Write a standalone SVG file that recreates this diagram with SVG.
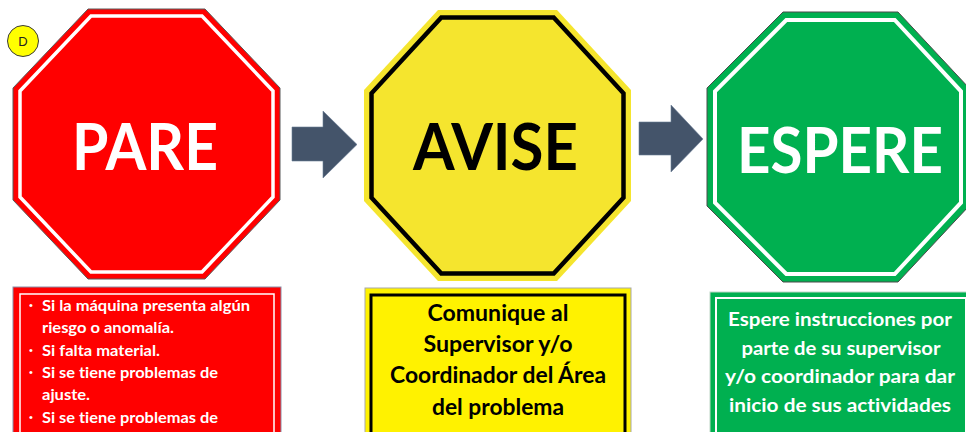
<svg xmlns="http://www.w3.org/2000/svg" width="966" height="432" viewBox="0 0 966 432">
<defs>
<style>
.title{font-family:"Lato","Open Sans","Liberation Sans",sans-serif;font-weight:700;text-anchor:middle}
.body{font-family:"Lato","Open Sans","Liberation Sans",sans-serif;font-weight:700;font-variant-ligatures:none}
.ctr{text-anchor:middle}
.white{fill:#FFFFFF}
.black{fill:#000000}
.bullet{font-family:"Liberation Sans",sans-serif;font-size:11px;font-weight:400}
.arrow{fill:#44546A;stroke:#6A7C95;stroke-width:0.6}
</style>
</defs>
<rect x="0" y="0" width="966" height="432" fill="#FFFFFF"/>

<g id="badge-d">
<circle cx="23" cy="41" r="15.5" fill="#FFFF00" stroke="#3A3A3A" stroke-width="1"/>
<text x="23" y="46" font-family="Liberation Sans, sans-serif" font-size="13" text-anchor="middle" fill="#222">D</text>
</g>

<g id="node-pare">
<polygon points="88,9 205,9 280,88 280,200 205,279 88,279 13,200 13,88" fill="#FF0000" stroke="#5A5A5A" stroke-width="1"/>
<polygon points="91,16 202,16 273,91 273,197 202,272 91,272 20,197 20,91" fill="none" stroke="#FFFFFF" stroke-width="3.5"/>
<text class="title white" x="145" y="170" font-size="65" textLength="146" lengthAdjust="spacingAndGlyphs">PARE</text>
</g>

<g id="node-avise">
<polygon points="438,10 557,10 631,90 631,201 557,281 438,281 364,201 364,90" fill="#F5E52E"/>
<polygon points="441.3,17.5 553.7,17.5 623.5,93.3 623.5,197.7 553.7,273.5 441.3,273.5 371.5,197.7 371.5,93.3" fill="none" stroke="#000000" stroke-width="4.5"/>
<text class="title black" x="495.5" y="170" font-size="65" textLength="165" lengthAdjust="spacingAndGlyphs">AVISE</text>
</g>

<g id="node-espere">
<polygon points="783,12 898,12 969,88 969,206 898,282 783,282 707,206 707,88" fill="#00B050" stroke="#4A4A4A" stroke-width="1"/>
<polygon points="786.3,20 894.7,20 961,91.3 961,202.7 894.7,274 786.3,274 715,202.7 715,91.3" fill="none" stroke="#FFFFFF" stroke-width="4"/>
<text class="title white" x="840" y="173" font-size="64" textLength="206" lengthAdjust="spacingAndGlyphs">ESPERE</text>
</g>

<g id="connectors">
<polygon class="arrow" points="292,127 323,127 323,111 357,144.5 323,178 323,161 292,161"/>
<polygon class="arrow" points="639,122 671,122 671,105 703,139 671,172 671,155 639,155"/>
</g>

<g id="box-pare">
<rect x="13" y="287" width="268" height="160" fill="#FF0000" stroke="#8A8FA8" stroke-width="1"/>
<rect x="20" y="294" width="254" height="150" fill="none" stroke="#FFFFFF" stroke-width="1.5"/>
<g class="body white" font-size="15">
<text class="bullet" x="29" y="309">•</text>
<text x="42" y="311" textLength="208" lengthAdjust="spacingAndGlyphs">Si la máquina presenta algún</text>
<text x="42" y="333" textLength="132" lengthAdjust="spacingAndGlyphs">riesgo o anomalía.</text>
<text class="bullet" x="29" y="354">•</text>
<text x="42" y="356" textLength="118" lengthAdjust="spacingAndGlyphs">Si falta material.</text>
<text class="bullet" x="29" y="376">•</text>
<text x="42" y="378" textLength="176" lengthAdjust="spacingAndGlyphs">Si se tiene problemas de</text>
<text x="42" y="400" textLength="48" lengthAdjust="spacingAndGlyphs">ajuste.</text>
<text class="bullet" x="29" y="421">•</text>
<text x="42" y="423" textLength="176" lengthAdjust="spacingAndGlyphs">Si se tiene problemas de</text>
</g>
</g>

<g id="box-avise">
<rect x="365" y="288" width="266" height="160" fill="#FFF200" stroke="#A8A8A8" stroke-width="1"/>
<rect x="371" y="295" width="254" height="150" fill="none" stroke="#000000" stroke-width="3"/>
<g class="body black ctr" font-size="22">
<text x="498" y="321" textLength="141" lengthAdjust="spacingAndGlyphs">Comunique al</text>
<text x="498" y="352" textLength="149" lengthAdjust="spacingAndGlyphs">Supervisor y/o</text>
<text x="498" y="383" textLength="216" lengthAdjust="spacingAndGlyphs">Coordinador del Área</text>
<text x="498" y="415" textLength="132" lengthAdjust="spacingAndGlyphs">del problema</text>
</g>
</g>

<g id="box-espere">
<rect x="710" y="292" width="262" height="160" fill="#00B050" stroke="#BFD8C8" stroke-width="1"/>
<rect x="716" y="298" width="250" height="150" fill="none" stroke="#FFFFFF" stroke-width="2"/>
<g class="body white ctr" font-size="19">
<text x="840" y="326" textLength="224" lengthAdjust="spacingAndGlyphs">Espere instrucciones por</text>
<text x="841" y="355" textLength="199" lengthAdjust="spacingAndGlyphs">parte de su supervisor</text>
<text x="840" y="383" textLength="230" lengthAdjust="spacingAndGlyphs">y/o coordinador para dar</text>
<text x="840" y="412" textLength="222" lengthAdjust="spacingAndGlyphs">inicio de sus actividades</text>
</g>
</g>
</svg>
